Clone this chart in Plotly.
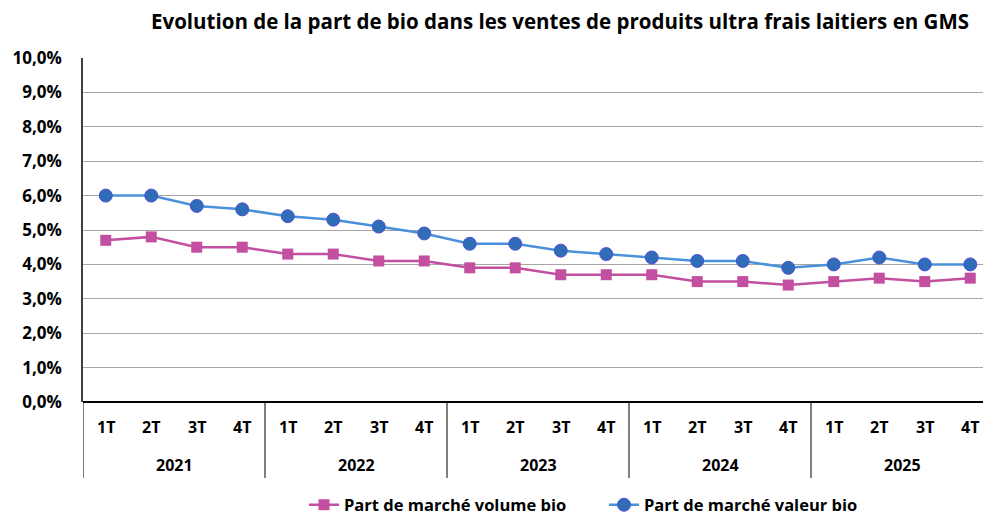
import plotly.graph_objects as go

years = ["2021", "2022", "2023", "2024", "2025"]
quarters = ["1T", "2T", "3T", "4T"]
volume = [4.7, 4.8, 4.5, 4.5, 4.3, 4.3, 4.1, 4.1, 3.9, 3.9, 3.7, 3.7,
          3.7, 3.5, 3.5, 3.4, 3.5, 3.6, 3.5, 3.6]
valeur = [6.0, 6.0, 5.7, 5.6, 5.4, 5.3, 5.1, 4.9, 4.6, 4.6, 4.4, 4.3,
          4.2, 4.1, 4.1, 3.9, 4.0, 4.2, 4.0, 4.0]
y_ticks = [0, 1, 2, 3, 4, 5, 6, 7, 8, 9, 10]
y_tick_labels = ["0,0%", "1,0%", "2,0%", "3,0%", "4,0%", "5,0%",
                 "6,0%", "7,0%", "8,0%", "9,0%", "10,0%"]

FONT = "Open Sans"
idx = list(range(len(volume)))

fig = go.Figure()
fig.add_trace(go.Scatter(
    x=idx, y=volume, mode="lines+markers", name="Part de marché volume bio",
    line=dict(color="#C24FA0", width=2.5),
    marker=dict(symbol="square", size=11, color="#C24FA0"),
))
fig.add_trace(go.Scatter(
    x=idx, y=valeur, mode="lines+markers", name="Part de marché valeur bio",
    line=dict(color="#4A91DA", width=2.5),
    marker=dict(symbol="circle", size=13, color="#2F6DB9",
                line=dict(color="#5050D0", width=1)),
))

annotations = []
shapes = []
for yi, yr in enumerate(years):
    for qi, q in enumerate(quarters):
        annotations.append(dict(x=yi * 4 + qi, y=-0.073, xref="x", yref="paper",
                                text=q, showarrow=False, yanchor="middle",
                                font=dict(family=FONT, size=16, color="#000000", weight="bold")))
    annotations.append(dict(x=yi * 4 + 1.5, y=-0.183, xref="x", yref="paper",
                            text=yr, showarrow=False, yanchor="middle",
                            font=dict(family=FONT, size=16, color="#000000", weight="bold")))
    shapes.append(dict(type="line", xref="x", yref="paper",
                       x0=yi * 4 - 0.5, x1=yi * 4 - 0.5, y0=0, y1=-0.221,
                       line=dict(color="#000000", width=1)))

fig.update_layout(
    width=983, height=516,
    margin=dict(l=83, r=0, t=58, b=114),
    paper_bgcolor="white", plot_bgcolor="white",
    title=dict(text="<b>Evolution de la part de bio dans les ventes de produits ultra frais laitiers en GMS</b>",
               x=560 / 983, xref="container", xanchor="center",
               y=1 - 22 / 516, yref="container", yanchor="middle",
               font=dict(family=FONT, size=20.5, color="#000000")),
    xaxis=dict(range=[-0.5, 19.28], showgrid=False, zeroline=False,
               showticklabels=False, ticks="", showline=False, fixedrange=True),
    yaxis=dict(range=[0, 10], tickvals=y_ticks, ticktext=y_tick_labels,
               showgrid=True, gridcolor="#A6A6A6", gridwidth=1,
               zeroline=False, showline=True, linecolor="#404040", linewidth=1.5,
               ticks="", ticklabelstandoff=16, fixedrange=True,
               tickfont=dict(family=FONT, size=17, color="#000000", weight="bold")),
    legend=dict(orientation="h", xref="container", yref="container",
                x=604 / 983, xanchor="center", y=1 - 505 / 516, yanchor="middle",
                font=dict(family=FONT, size=16.5, color="#000000", weight="bold"),
                itemwidth=30, tracegroupgap=0, entrywidth=255, entrywidthmode="pixels"),
    annotations=annotations,
    shapes=shapes + [dict(type="line", xref="paper", yref="paper", x0=0, x1=1.02,
                          y0=0, y1=0, line=dict(color="#000000", width=2))],
    showlegend=True,
)

fig.write_html("out.html", config={"displayModeBar": False},
               post_script="document.body.style.margin='0';")
